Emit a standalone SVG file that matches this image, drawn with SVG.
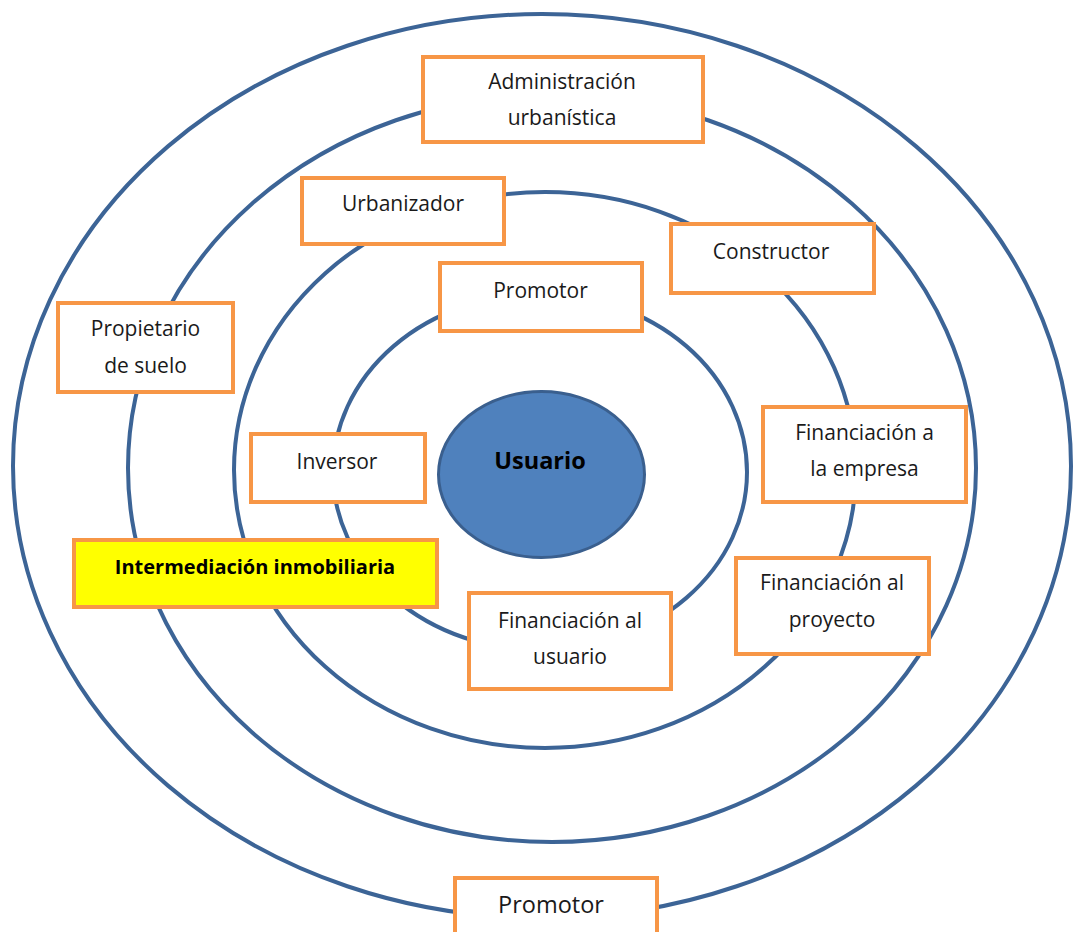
<svg xmlns="http://www.w3.org/2000/svg" width="1075" height="932" viewBox="0 0 1075 932">
  <style>
    .ring { fill: none; stroke: #3C6496; stroke-width: 4; }
    .box { fill: #FFFFFF; stroke: #F79646; stroke-width: 4; }
    .hl { fill: #FFFF00; stroke: #F79646; stroke-width: 4; }
    .lbl { font-family: "Open Sans", "Liberation Sans", sans-serif; font-size: 21px; fill: #1A1A1A; text-anchor: middle; }
    .bold { font-weight: bold; fill: #000000; }
    .centre { font-size: 23.5px; }
    .hl-text { font-size: 20px; }
    .outer { font-size: 23.5px; }
  </style>
  <rect x="0" y="0" width="1075" height="932" fill="#FFFFFF"/>

  <!-- concentric rings -->
  <g id="rings">
    <ellipse class="ring" cx="542" cy="466" rx="529" ry="452"/>
    <ellipse class="ring" cx="552" cy="468" rx="424" ry="374"/>
    <ellipse class="ring" cx="545" cy="470" rx="311" ry="278"/>
    <ellipse class="ring" cx="540" cy="472" rx="207" ry="178"/>
  </g>

  <!-- centre -->
  <g id="usuario">
    <ellipse cx="541.5" cy="474.5" rx="103" ry="83" fill="#4F81BD" stroke="#3A5F8E" stroke-width="3"/>
    <text class="lbl bold centre" x="540" y="469">Usuario</text>
  </g>

  <g id="administracion">
    <rect class="box" x="423" y="57" width="280" height="85"/>
    <text class="lbl" x="562" y="89">Administración</text>
    <text class="lbl" x="562" y="125">urbanística</text>
  </g>

  <g id="urbanizador">
    <rect class="box" x="302" y="178" width="202" height="66"/>
    <text class="lbl" x="403" y="211">Urbanizador</text>
  </g>

  <g id="constructor">
    <rect class="box" x="671" y="224" width="203" height="69"/>
    <text class="lbl" x="771" y="259">Constructor</text>
  </g>

  <g id="promotor-interior">
    <rect class="box" x="440" y="263" width="202" height="68"/>
    <text class="lbl" x="540.5" y="298">Promotor</text>
  </g>

  <g id="propietario">
    <rect class="box" x="58" y="303" width="175" height="89"/>
    <text class="lbl" x="145.5" y="336">Propietario</text>
    <text class="lbl" x="145.5" y="373">de suelo</text>
  </g>

  <g id="inversor">
    <rect class="box" x="251" y="434" width="174" height="68"/>
    <text class="lbl" x="337" y="469">Inversor</text>
  </g>

  <g id="financiacion-empresa">
    <rect class="box" x="763" y="407" width="203" height="95"/>
    <text class="lbl" x="864.5" y="440">Financiación a</text>
    <text class="lbl" x="864.5" y="476">la empresa</text>
  </g>

  <g id="intermediacion">
    <rect class="hl" x="74" y="540" width="363" height="67"/>
    <text class="lbl bold hl-text" x="255" y="574">Intermediación inmobiliaria</text>
  </g>

  <g id="financiacion-proyecto">
    <rect class="box" x="736" y="558" width="193" height="96"/>
    <text class="lbl" x="832" y="590">Financiación al</text>
    <text class="lbl" x="832" y="627">proyecto</text>
  </g>

  <g id="financiacion-usuario">
    <rect class="box" x="469" y="593" width="202" height="96"/>
    <text class="lbl" x="570" y="628">Financiación al</text>
    <text class="lbl" x="570" y="664">usuario</text>
  </g>

  <g id="promotor-exterior">
    <rect class="box" x="455" y="878" width="202" height="70"/>
    <text class="lbl outer" x="551" y="913">Promotor</text>
  </g>

  <g id="connectors"/>
</svg>
